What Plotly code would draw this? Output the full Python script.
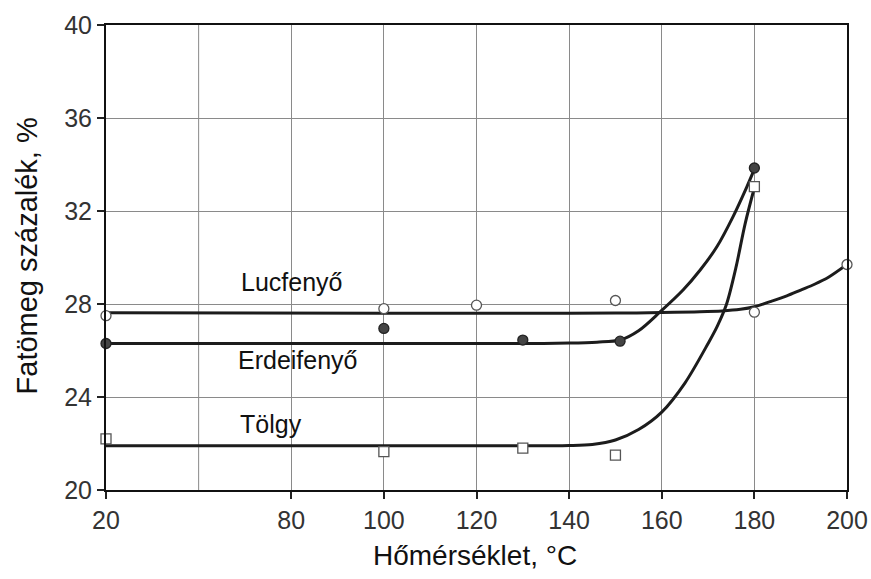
import plotly.graph_objects as go

# ---------------- data ----------------
# measured points
luc_t = [20, 100, 120, 150, 180, 200]
luc_y = [27.5, 27.8, 27.95, 28.15, 27.65, 29.7]

erd_t = [20, 100, 130, 151, 180]
erd_y = [26.3, 26.95, 26.45, 26.4, 33.85]

tol_t = [20, 100, 130, 150, 180]
tol_y = [22.2, 21.65, 21.8, 21.5, 33.05]

# fitted curves
luc_curve_t = [20, 100, 120, 140, 150, 160, 167, 173, 177, 180, 183.4, 187, 190, 193, 196, 200]
luc_curve_y = [27.62, 27.6, 27.6, 27.6, 27.61, 27.63, 27.66, 27.7, 27.77, 27.88, 28.1,
               28.35, 28.6, 28.85, 29.15, 29.7]

erd_curve_t = [20, 100, 120, 130, 140, 146, 151, 155, 159.7, 164.6, 168.3, 171.9, 175.4, 178.4, 180]
erd_curve_y = [26.3, 26.3, 26.3, 26.3, 26.32, 26.36, 26.45, 26.85, 27.67, 28.6, 29.46, 30.46,
               31.76, 33.05, 33.8]

tol_curve_t = [20, 100, 120, 130, 136, 140, 145, 150, 155, 160, 165, 170, 172, 174, 176, 178, 180]
tol_curve_y = [21.9, 21.9, 21.9, 21.9, 21.9, 21.91, 21.96, 22.15, 22.6, 23.35, 24.6, 26.3,
               27.05, 28.0, 29.55, 31.45, 33.0]

x_tick_labels = ["20", "80", "100", "120", "140", "160", "180", "200"]
y_tick_labels = ["20", "24", "28", "32", "36", "40"]

series_names = ["Lucfenyő", "Erdeifenyő", "Tölgy"]

# The temperature axis is broken: the first gridline stands for 20 °C,
# the remaining ones are evenly spaced from 60 °C onwards.
BREAK_LOW, BREAK_POS = 20, 40


def to_axis(values):
    return [BREAK_POS if v <= BREAK_LOW else v for v in values]


x_tick_pos = [40, 80, 100, 120, 140, 160, 180, 200]
x_unlabeled_grid = [60]
y_tick_pos = [float(v) for v in y_tick_labels]

LINE = "#1c1c1c"
GRID = "#8a8a8a"
FONT = "Liberation Sans, Arial, sans-serif"

fig = go.Figure()

for ct, cy in [(luc_curve_t, luc_curve_y), (erd_curve_t, erd_curve_y), (tol_curve_t, tol_curve_y)]:
    fig.add_trace(go.Scatter(
        x=to_axis(ct), y=cy, mode="lines",
        line=dict(color=LINE, width=3, shape="spline", smoothing=0.9),
        showlegend=False, hoverinfo="skip"))

fig.add_trace(go.Scatter(
    x=to_axis(luc_t), y=luc_y, mode="markers", name=series_names[0], cliponaxis=False,
    marker=dict(symbol="circle", size=10, color="white",
                line=dict(color="#555555", width=1.3)),
    showlegend=False))
fig.add_trace(go.Scatter(
    x=to_axis(erd_t), y=erd_y, mode="markers", name=series_names[1], cliponaxis=False,
    marker=dict(symbol="circle", size=10, color="#444444",
                line=dict(color="#222222", width=1.3)),
    showlegend=False))
fig.add_trace(go.Scatter(
    x=to_axis(tol_t), y=tol_y, mode="markers", name=series_names[2], cliponaxis=False,
    marker=dict(symbol="square", size=10, color="white",
                line=dict(color="#555555", width=1.3)),
    showlegend=False))

# unlabeled gridline
for gx in x_unlabeled_grid:
    fig.add_shape(type="line", xref="x", yref="paper", x0=gx, x1=gx, y0=0, y1=1,
                  line=dict(color=GRID, width=1), layer="below")

# series labels
label_pos = [(80, 28.93), (81.5, 25.58), (75.6, 22.83)]
for name, (lx, ly) in zip(series_names, label_pos):
    fig.add_annotation(x=lx, y=ly, xref="x", yref="y", text=name,
                       showarrow=False, xanchor="center", yanchor="middle",
                       font=dict(family=FONT, size=25, color="#111111"))

# axis titles
fig.add_annotation(x=(475 - 106) / (847 - 106), y=-0.14, xref="paper", yref="paper",
                   text="Hőmérséklet, °C", showarrow=False,
                   xanchor="center", yanchor="middle",
                   font=dict(family=FONT, size=28, color="#111111"))
fig.add_annotation(x=-0.106, y=(490 - 256) / (490 - 25), xref="paper", yref="paper",
                   text="Fatömeg százalék, %", showarrow=False, textangle=-90,
                   xanchor="center", yanchor="middle",
                   font=dict(family=FONT, size=29, color="#111111"))

fig.update_layout(
    width=871, height=579,
    margin=dict(l=106, r=24, t=25, b=89, autoexpand=False),
    paper_bgcolor="white", plot_bgcolor="white",
    font=dict(family=FONT, color="#222222"),
)

fig.update_xaxes(
    range=[40, 200], tickmode="array", tickvals=x_tick_pos, ticktext=x_tick_labels,
    showgrid=True, gridcolor=GRID, gridwidth=1, automargin=False,
    showline=True, linecolor="#111111", linewidth=2, mirror=True,
    ticks="outside", ticklen=7, tickwidth=1.5, tickcolor="#222222",
    tickfont=dict(family=FONT, size=25, color="#333333"),
    zeroline=False,
)
fig.update_yaxes(
    range=[20, 40], tickmode="array", tickvals=y_tick_pos, ticktext=y_tick_labels,
    showgrid=True, gridcolor=GRID, gridwidth=1, automargin=False,
    showline=True, linecolor="#111111", linewidth=2, mirror=True,
    ticks="outside", ticklen=7, tickwidth=1.5, tickcolor="#222222",
    tickfont=dict(family=FONT, size=25, color="#333333"),
    zeroline=False,
)

fig.write_html("out.html")
